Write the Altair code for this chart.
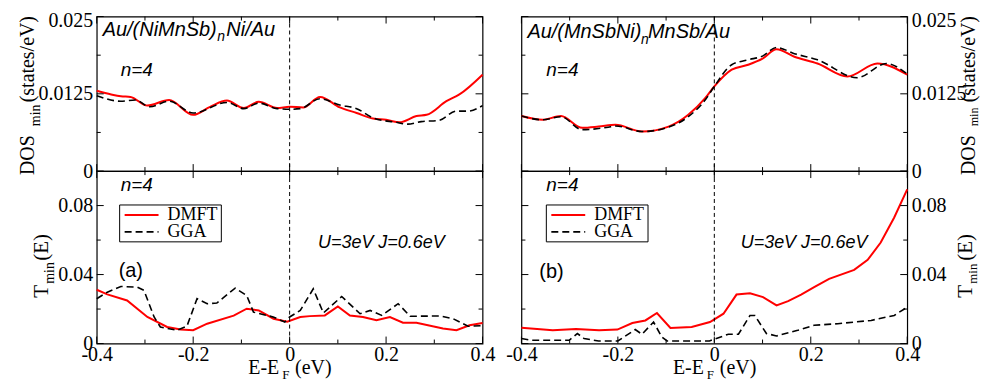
import altair as alt
import pandas as pd

# ---------------- data ----------------
TL_DMFT_X = [-0.4, -0.37, -0.35, -0.33, -0.295, -0.25, -0.2, -0.165, -0.13, -0.095, -0.064, -0.026, 0.0, 0.028, 0.063, 0.104, 0.139, 0.173, 0.2, 0.228, 0.263, 0.284, 0.325, 0.352, 0.4]
TL_DMFT_Y = [0.0130, 0.0124, 0.0121, 0.0120, 0.0106, 0.0115, 0.0091, 0.0104, 0.0114, 0.0102, 0.0112, 0.0102, 0.0104, 0.0103, 0.0120, 0.0103, 0.0094, 0.0085, 0.0083, 0.0079, 0.0089, 0.0091, 0.0113, 0.0124, 0.0156]
TL_GGA_X = [-0.4, -0.35, -0.32, -0.29, -0.25, -0.2, -0.13, -0.095, -0.064, -0.026, 0.0, 0.022, 0.063, 0.104, 0.139, 0.173, 0.22, 0.245, 0.273, 0.31, 0.345, 0.37, 0.4]
TL_GGA_Y = [0.0122, 0.0113, 0.0115, 0.0104, 0.0113, 0.0094, 0.0111, 0.0101, 0.0110, 0.0101, 0.0100, 0.0101, 0.0117, 0.0107, 0.0101, 0.0086, 0.0079, 0.0076, 0.0080, 0.0082, 0.0097, 0.0097, 0.0106]

TR_DMFT_X = [-0.4, -0.356, -0.318, -0.274, -0.24, -0.205, -0.15, -0.095, -0.054, -0.019, 0.0, 0.036, 0.07, 0.1, 0.129, 0.166, 0.214, 0.276, 0.338, 0.4]
TR_DMFT_Y = [0.0089, 0.0083, 0.0089, 0.0070, 0.0072, 0.0075, 0.0064, 0.0072, 0.0091, 0.0118, 0.0137, 0.0164, 0.0172, 0.0182, 0.0197, 0.0185, 0.0174, 0.0153, 0.0174, 0.0156]
TR_GGA_X = [-0.4, -0.356, -0.318, -0.274, -0.22, -0.205, -0.15, -0.095, -0.054, -0.019, 0.0, 0.036, 0.07, 0.1, 0.129, 0.166, 0.214, 0.296, 0.357, 0.4]
TR_GGA_Y = [0.0089, 0.0083, 0.0088, 0.0067, 0.0071, 0.0073, 0.0064, 0.0071, 0.0088, 0.0115, 0.0137, 0.0172, 0.0180, 0.0186, 0.0200, 0.0190, 0.0180, 0.0151, 0.0174, 0.0157]

BL_DMFT_X = [-0.4, -0.378, -0.337, -0.295, -0.254, -0.226, -0.2, -0.171, -0.116, -0.089, -0.064, -0.0335, -0.005, 0.022, 0.042, 0.073, 0.1, 0.125, 0.152, 0.18, 0.208, 0.235, 0.263, 0.318, 0.346, 0.373, 0.4]
BL_DMFT_Y = [0.0312, 0.0285, 0.0250, 0.0154, 0.0096, 0.0081, 0.0077, 0.0115, 0.0162, 0.0202, 0.0192, 0.0144, 0.0127, 0.0154, 0.0159, 0.0163, 0.0215, 0.0163, 0.0154, 0.0135, 0.0154, 0.0121, 0.0121, 0.0087, 0.0077, 0.0106, 0.0119]
BL_GGA_X = [-0.4, -0.378, -0.35, -0.316, -0.302, -0.281, -0.268, -0.234, -0.213, -0.192, -0.171, -0.151, -0.113, -0.089, -0.075, -0.034, -0.01, 0.0, 0.022, 0.049, 0.07, 0.108, 0.146, 0.167, 0.191, 0.225, 0.25, 0.311, 0.339, 0.37, 0.4]
BL_GGA_Y = [0.0260, 0.0298, 0.0331, 0.0327, 0.0308, 0.0154, 0.0096, 0.0077, 0.0100, 0.0260, 0.0231, 0.0235, 0.0321, 0.0279, 0.0182, 0.0154, 0.0125, 0.0154, 0.0192, 0.0317, 0.0177, 0.0273, 0.0173, 0.0192, 0.0163, 0.0231, 0.0158, 0.0160, 0.0144, 0.0100, 0.0104]

BR_DMFT_X = [-0.4, -0.335, -0.287, -0.239, -0.201, -0.17, -0.143, -0.119, -0.091, -0.047, -0.009, 0.019, 0.046, 0.074, 0.101, 0.129, 0.153, 0.18, 0.207, 0.238, 0.29, 0.318, 0.345, 0.373, 0.4]
BR_DMFT_Y = [0.0092, 0.0077, 0.0084, 0.0077, 0.0081, 0.0119, 0.0134, 0.0177, 0.0090, 0.0096, 0.0125, 0.0173, 0.0284, 0.0292, 0.0269, 0.0221, 0.0246, 0.0284, 0.0327, 0.0375, 0.0427, 0.0485, 0.0586, 0.0731, 0.0894]
BR_GGA_X = [-0.4, -0.38, -0.301, -0.284, -0.27, -0.24, -0.2, -0.164, -0.15, -0.126, -0.109, -0.098, -0.01, 0.029, 0.05, 0.074, 0.084, 0.108, 0.129, 0.173, 0.207, 0.256, 0.325, 0.373, 0.4]
BR_GGA_Y = [0.0029, 0.0019, 0.0019, 0.0058, 0.0029, 0.0015, 0.0015, 0.0081, 0.0054, 0.0125, 0.0038, 0.0015, 0.0015, 0.0054, 0.0054, 0.0163, 0.0163, 0.0058, 0.0044, 0.0077, 0.0106, 0.0115, 0.0134, 0.0163, 0.0211]

X_MAJOR = [-0.4, -0.2, 0.0, 0.2, 0.4]
X_MINOR = [-0.3, -0.1, 0.1, 0.3]
DOS_MAJOR = [0.0, 0.0125, 0.025]
DOS_MINOR = [0.00625, 0.01875]
T_MAJOR = [0.0, 0.04, 0.08]
T_MINOR = [0.02, 0.06]

LEGEND_LABELS = ["DMFT", "GGA"]

# ---------------- style ----------------
W = 387
H_TOP = 155
H_BOT = 173
RED = "#ff0000"
SERIF = "Liberation Serif"
SANS = "Liberation Sans"
ONE = pd.DataFrame({"a": [0]})
DASH = [7, 4]


def txt(t, x, y, size, font=SANS, style="normal", angle=0, align="left", baseline="alphabetic"):
    return alt.Chart(ONE).mark_text(
        text=t, font=font, fontSize=size, fontStyle=style, angle=angle,
        align=align, baseline=baseline, color="black"
    ).encode(x=alt.value(x), y=alt.value(y))


def anchor(x, x2, y, y2):
    # invisible layout anchor: fixes the page bounds of the chart
    return alt.Chart(ONE).mark_rule(opacity=0, strokeWidth=1).encode(
        x=alt.value(x), x2=alt.value(x2), y=alt.value(y), y2=alt.value(y2))


def legend(x0, y0):
    rect = alt.Chart(ONE).mark_rect(fill="white", stroke="black", strokeWidth=1).encode(
        x=alt.value(x0), x2=alt.value(x0 + 102), y=alt.value(y0), y2=alt.value(y0 + 37))
    l1 = alt.Chart(ONE).mark_rule(color=RED, strokeWidth=2).encode(
        x=alt.value(x0 + 5), x2=alt.value(x0 + 39), y=alt.value(y0 + 10))
    l2 = alt.Chart(ONE).mark_rule(color="black", strokeWidth=1.6, strokeDash=DASH).encode(
        x=alt.value(x0 + 5), x2=alt.value(x0 + 39), y=alt.value(y0 + 27))
    t1 = txt(LEGEND_LABELS[0], x0 + 48, y0 + 10, 18, font=SERIF, baseline="middle")
    t2 = txt(LEGEND_LABELS[1], x0 + 48, y0 + 27, 18, font=SERIF, baseline="middle")
    return [rect, l1, l2, t1, t2]


def panel(rx, ry, gx, gy, ydom, ymaj, ymin, H, side, show_x, interp, extra):
    xscale = alt.Scale(domain=[-0.4, 0.4], nice=False, zero=False)
    yscale = alt.Scale(domain=ydom, nice=False, zero=False)
    if show_x:
        xaxis = alt.Axis(values=X_MAJOR, labelExpr="'' + datum.value", ticks=False, domain=False,
                         grid=False, title=None, labelFont=SERIF, labelFontSize=20,
                         labelColor="black", labelPadding=1, labelFlush=False, labelOverlap=False)
    else:
        xaxis = None
    top_label = ydom[1]
    yaxis = alt.Axis(orient=side, values=ymaj, labelExpr="'' + datum.value", ticks=False,
                     domain=False, grid=False, title=None, labelFont=SERIF, labelFontSize=20,
                     labelColor="black", labelPadding=4, labelFlush=False, labelOverlap=False,
                     labelOffset={"condition": {"test": f"datum.value == {top_label}", "value": 4},
                                  "value": 0})
    X = alt.X("x:Q", scale=xscale, axis=xaxis)
    Y = alt.Y("y:Q", scale=yscale, axis=yaxis)

    red = alt.Chart(pd.DataFrame({"x": rx, "y": ry})).mark_line(
        color=RED, strokeWidth=2, interpolate=interp).encode(x=X, y=Y)
    gga = alt.Chart(pd.DataFrame({"x": gx, "y": gy})).mark_line(
        color="black", strokeWidth=1.6, strokeDash=DASH, interpolate=interp).encode(x=X, y=Y)
    zero = alt.Chart(pd.DataFrame({"x": [0.0]})).mark_rule(
        color="black", strokeWidth=1, strokeDash=[4, 3]).encode(x=X)

    layers = [red, gga, zero]
    for vals, ln in ((X_MAJOR, 7), (X_MINOR, 4)):
        d = pd.DataFrame({"x": vals})
        layers.append(alt.Chart(d).mark_rule(color="black", strokeWidth=1).encode(
            x=X, y=alt.value(H), y2=alt.value(H - ln)))
        layers.append(alt.Chart(d).mark_rule(color="black", strokeWidth=1).encode(
            x=X, y=alt.value(0), y2=alt.value(ln)))
    for vals, ln in ((ymaj, 7), (ymin, 4)):
        d = pd.DataFrame({"y": vals})
        layers.append(alt.Chart(d).mark_rule(color="black", strokeWidth=1).encode(
            y=Y, x=alt.value(0), x2=alt.value(ln)))
        layers.append(alt.Chart(d).mark_rule(color="black", strokeWidth=1).encode(
            y=Y, x=alt.value(W), x2=alt.value(W - ln)))
    layers += extra
    return alt.layer(*layers).properties(width=W, height=H)


def xtitle():
    return [txt("E-E", 152, 204, 20, font=SERIF),
            txt("F", 186, 209, 13, font=SERIF),
            txt("(eV)", 199, 204, 20, font=SERIF)]


# top-left
tl_extra = [
    anchor(-88, -87, 60, 70),     # left page edge
    anchor(10, 20, -12, -12),     # top page edge
    txt("Au/(NiMnSb)", 6, 20, 20, style="italic"),
    txt("n", 121, 25, 14, style="italic"),
    txt("Ni/Au", 130, 20, 20, style="italic"),
    txt("n=4", 24, 60, 19, style="italic"),
    txt("DOS", -63, 159, 20, font=SERIF, angle=270),
    txt("min", -57, 110, 14, font=SERIF, angle=270),
    txt("(states/eV)", -63, 86, 20, font=SERIF, angle=270),
]
tl = panel(TL_DMFT_X, TL_DMFT_Y, TL_GGA_X, TL_GGA_Y, [0, 0.025], DOS_MAJOR, DOS_MINOR,
           H_TOP, "left", False, "monotone", tl_extra)

# top-right
tr_extra = [
    anchor(480, 481, 60, 70),     # right page edge
    txt("Au/(MnSbNi)", 6, 22, 20, style="italic"),
    txt("n", 120, 28, 14, style="italic"),
    txt("MnSb/Au", 127, 22, 20, style="italic"),
    txt("n=4", 25, 60, 19, style="italic"),
    txt("DOS", 455, 159, 20, font=SERIF, angle=270),
    txt("min", 458, 110, 12, font=SERIF, angle=270),
    txt("(states/eV)", 455, 86, 20, font=SERIF, angle=270),
]
tr = panel(TR_DMFT_X, TR_DMFT_Y, TR_GGA_X, TR_GGA_Y, [0, 0.025], DOS_MAJOR, DOS_MINOR,
           H_TOP, "right", False, "monotone", tr_extra)

# bottom-left
bl_extra = legend(23, 34) + [
    anchor(10, 20, H_BOT + 50, H_BOT + 50),   # bottom page edge
    txt("n=4", 24, 20, 19, style="italic"),
    txt("(a)", 22, 106, 20),
    txt("U=3eV J=0.6eV", 222, 77, 18, style="italic"),
    txt("T", -49, 127, 21, font=SERIF, angle=270),
    txt("min", -43, 113, 14, font=SERIF, angle=270),
    txt("(E)", -49, 90, 21, font=SERIF, angle=270),
] + xtitle()
bl = panel(BL_DMFT_X, BL_DMFT_Y, BL_GGA_X, BL_GGA_Y, [0, 0.1], T_MAJOR, T_MINOR,
           H_BOT, "left", True, "linear", bl_extra)

# bottom-right
br_extra = legend(25, 34) + [
    txt("n=4", 25, 20, 19, style="italic"),
    txt("(b)", 18, 107, 20),
    txt("U=3eV J=0.6eV", 220, 77, 18, style="italic"),
    txt("T", 452, 127, 21, font=SERIF, angle=270),
    txt("min", 457, 113, 13, font=SERIF, angle=270),
    txt("(E)", 452, 90, 21, font=SERIF, angle=270),
] + xtitle()
br = panel(BR_DMFT_X, BR_DMFT_Y, BR_GGA_X, BR_GGA_Y, [0, 0.1], T_MAJOR, T_MINOR,
           H_BOT, "right", True, "linear", br_extra)

chart = alt.concat(
    tl, tr, bl, br, columns=2,
    spacing=alt.RowColnumber(row=0, column=39), bounds="flush"
).properties(
    padding={"left": 0, "top": -5, "right": -20, "bottom": -11}
).configure_view(stroke="black", strokeWidth=1.2)

chart.save("out.html", embed_options={"renderer": "svg", "actions": False})
